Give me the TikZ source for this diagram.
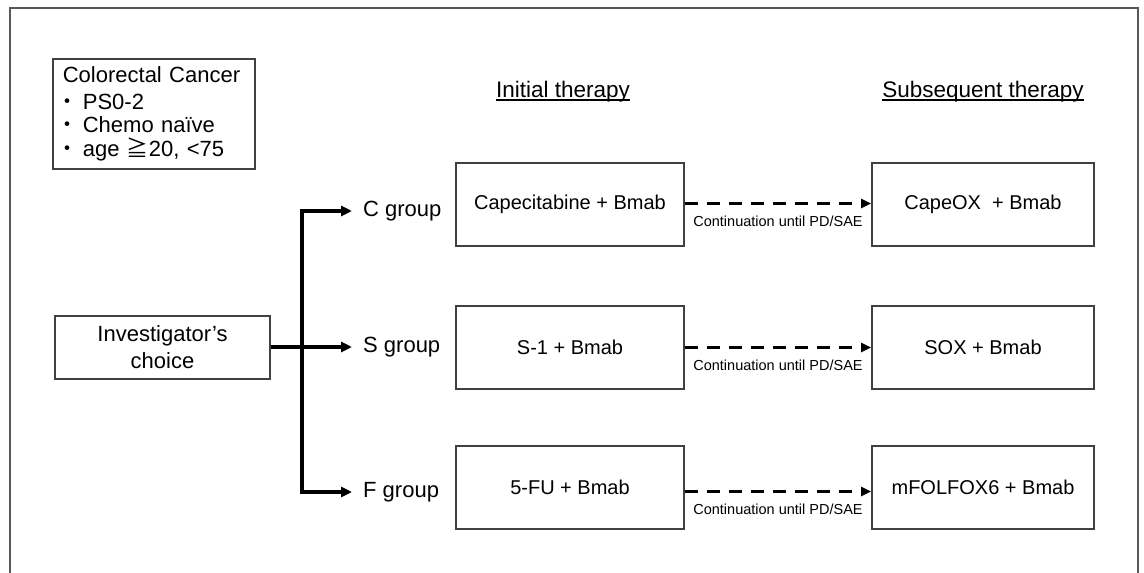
\documentclass[tikz,border=0pt]{standalone}
\usepackage{fontspec}
\setmainfont{Liberation Sans}
\newfontfamily\cjk{Noto Sans CJK JP}
\usetikzlibrary{arrows.meta}
\begin{document}
\begin{tikzpicture}[x=1pt,y=-1pt,
  frame/.style={draw=black!65, line width=1.8pt},
  box/.style={draw=black!75, line width=1.7pt, minimum width=228pt, minimum height=83pt, inner sep=0pt, font=\fontsize{20}{24}\selectfont},
  critbox/.style={draw=black!75, line width=1.7pt, minimum width=202pt, minimum height=110pt, inner xsep=10pt, inner ysep=0pt, text width=182pt, align=left, font=\fontsize{22}{23.5}\selectfont},
  invbox/.style={draw=black!75, line width=1.7pt, minimum width=215pt, minimum height=63pt, inner sep=0pt, align=center, font=\fontsize{22}{27}\selectfont},
  grp/.style={inner xsep=11pt, inner ysep=0pt, font=\fontsize{22}{26}\selectfont},
  head/.style={inner sep=0pt, font=\fontsize{22.5}{26}\selectfont},
  solidarrow/.style={line width=3.2pt, -{Triangle[length=11pt,width=10pt]}},
  dasharrow/.style={line width=3pt, dash pattern=on 13pt off 9pt, -{Triangle[length=10pt,width=9pt]}},
  contlabel/.style={inner sep=1pt, font=\fontsize{14.5}{16}\selectfont}
]
\useasboundingbox (0,0) rectangle (1144,573);
% outer frame (open at bottom)
\draw[frame] (10,573) -- (10,8) -- (1138,8) -- (1138,573);

% eligibility box
\node[critbox, anchor=north west] (crit) at (52,58) {Colorectal Cancer\\[3pt]
\hspace*{-6pt}{\cjk ・}\hspace{4pt}PS0-2\\
\hspace*{-6pt}{\cjk ・}\hspace{4pt}Chemo naïve\\
\hspace*{-6pt}{\cjk ・}\hspace{4pt}age {\cjk ≧}20, <75};

% headings
\node[head, anchor=base] (hi) at (563,97) {Initial therapy};
\node[head, anchor=base] (hs) at (983,97) {Subsequent therapy};
\draw[line width=1.6pt] ([yshift=-3pt]hi.base west) -- ([yshift=-3pt]hi.base east);
\draw[line width=1.6pt] ([yshift=-3pt]hs.base west) -- ([yshift=-3pt]hs.base east);

% investigator's choice
\node[invbox] (inv) at (162.5,347.5) {Investigator’s\\choice};
\coordinate (split) at (302,347);

% group labels
\node[grp, anchor=west] (cg) at (352,211) {C group};
\node[grp, anchor=west] (sg) at (352,347) {S group};
\node[grp, anchor=west] (fg) at (352,492) {F group};

\draw[solidarrow] (inv.east |- split) -- (sg.west);
\draw[solidarrow] (split) |- (cg.west);
\draw[solidarrow] (split) |- (fg.west);

% initial therapy boxes
\node[box] (ci) at (570,204.5) {Capecitabine + Bmab};
\node[box] (si) at (570,347.5) {S-1 + Bmab};
\node[box] (fi) at (570,487.5) {5-FU + Bmab};

% subsequent therapy boxes
\node[box, minimum width=222pt] (cs) at (983,204.5) {CapeOX\hspace{5.5pt} + Bmab};
\node[box, minimum width=222pt] (ss) at (983,347.5) {SOX + Bmab};
\node[box, minimum width=222pt] (fs) at (983,487.5) {mFOLFOX6 + Bmab};

% continuation arrows
\draw[dasharrow] ([yshift=1pt]ci.east) -- node[contlabel, midway, below=10pt] {Continuation until PD/SAE} ([yshift=1pt]cs.west);
\draw[dasharrow] ([yshift=0pt]si.east) -- node[contlabel, midway, below=10pt] {Continuation until PD/SAE} ([yshift=0pt]ss.west);
\draw[dasharrow] ([yshift=-4pt]fi.east) -- node[contlabel, midway, below=10pt] {Continuation until PD/SAE} ([yshift=-4pt]fs.west);
\end{tikzpicture}
\end{document}
